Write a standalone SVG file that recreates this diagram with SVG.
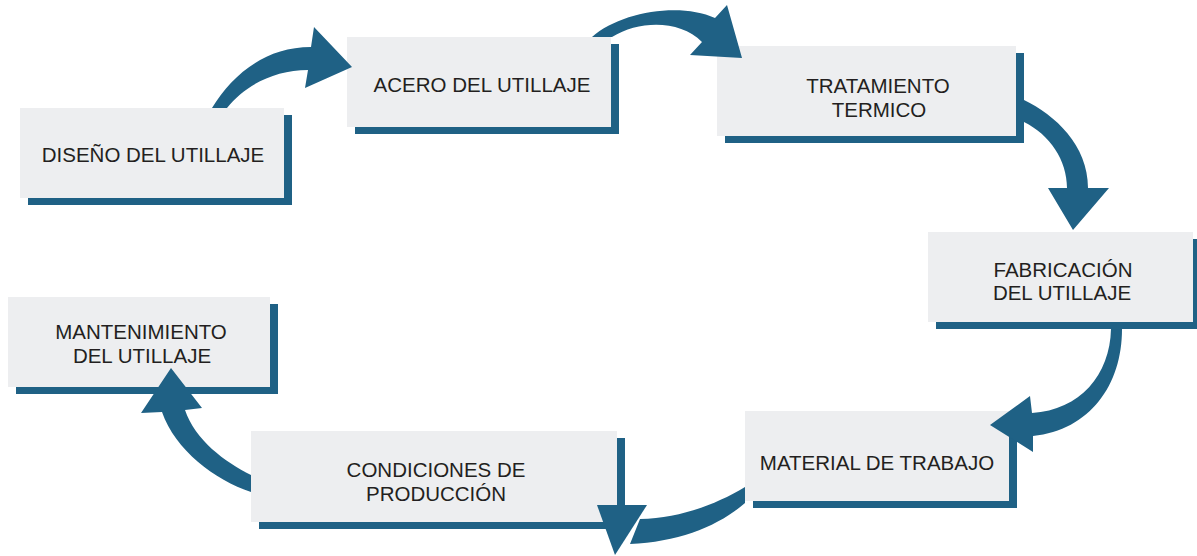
<svg xmlns="http://www.w3.org/2000/svg" width="1197" height="556" viewBox="0 0 1197 556">
<style>
.sh{fill:#1f6185}
.bx{fill:#edeef0}
.t{font-family:"Liberation Sans",Arial,Helvetica,sans-serif;font-size:20.5px;fill:#231f20;text-anchor:middle}
.ar{fill:#1f6185}
</style>
<rect width="1197" height="556" fill="#ffffff"/>
<g id="node-diseno">
<rect class="sh" x="28" y="115" width="264" height="90"/>
<rect class="bx" x="20" y="108" width="264" height="90"/>
<text class="t" x="153" y="162">DISEÑO DEL UTILLAJE</text>
</g>
<g id="node-acero">
<rect class="sh" x="355" y="44" width="264" height="90"/>
<rect class="bx" x="347" y="37" width="264" height="90"/>
<text class="t" x="482" y="92">ACERO DEL UTILLAJE</text>
</g>
<g id="node-tratamiento">
<rect class="sh" x="725" y="53" width="299" height="90"/>
<rect class="bx" x="717" y="46" width="299" height="90"/>
<text class="t" x="878" y="93">TRATAMIENTO</text>
<text class="t" x="879" y="117">TERMICO</text>
</g>
<g id="node-fabricacion">
<rect class="sh" x="936" y="239" width="265" height="90"/>
<rect class="bx" x="928" y="232" width="265" height="90"/>
<text class="t" x="1063" y="277">FABRICACIÓN</text>
<text class="t" x="1062" y="300">DEL UTILLAJE</text>
</g>
<g id="node-material">
<rect class="sh" x="753" y="418" width="264" height="90"/>
<rect class="bx" x="745" y="411" width="264" height="90"/>
<text class="t" x="877" y="470">MATERIAL DE TRABAJO</text>
</g>
<g id="node-condiciones">
<rect class="sh" x="259" y="438" width="366" height="91"/>
<rect class="bx" x="251" y="431" width="366" height="91"/>
<text class="t" x="436" y="477">CONDICIONES DE</text>
<text class="t" x="436" y="501">PRODUCCIÓN</text>
</g>
<g id="node-mantenimiento">
<rect class="sh" x="16" y="304" width="262" height="90"/>
<rect class="bx" x="8" y="297" width="262" height="90"/>
<text class="t" x="141" y="339">MANTENIMIENTO</text>
<text class="t" x="142" y="363">DEL UTILLAJE</text>
</g>
<g id="connectors">
<path class="ar" d="M212,108 C232,75 265,47 311,47 L314,27 L352,67 L305,88 L308,70 C275,70 245,85 227,108 Z"/>
<path class="ar" d="M592,37 C620,12 680,2 715,18 L727,5 L742,58 L690,55 L702,42 C680,20 640,20 612,37 Z"/>
<path class="ar" d="M1024,100 C1055,115 1088,145 1088,188 L1109,188 L1073,230 L1048,188 L1067,188 C1067,160 1050,135 1024,122 Z"/>
<path class="ar" d="M1111,329 C1110,375 1080,410 1032,413 L1030,396 L990,425 L1033,452 L1033,436 C1090,430 1122,385 1122,329 Z"/>
<path class="ar" d="M745,487 C715,505 680,518 640,519 L630,544 C680,542 720,525 745,503 Z"/>
<path class="ar" d="M597,505 L647,505 L615,555 Z"/>
<path class="ar" d="M251,475 C225,462 195,440 185,410 L202,408 L171,368 L141,413 L162,412 C175,450 215,480 251,492 Z"/>
</g>
</svg>
